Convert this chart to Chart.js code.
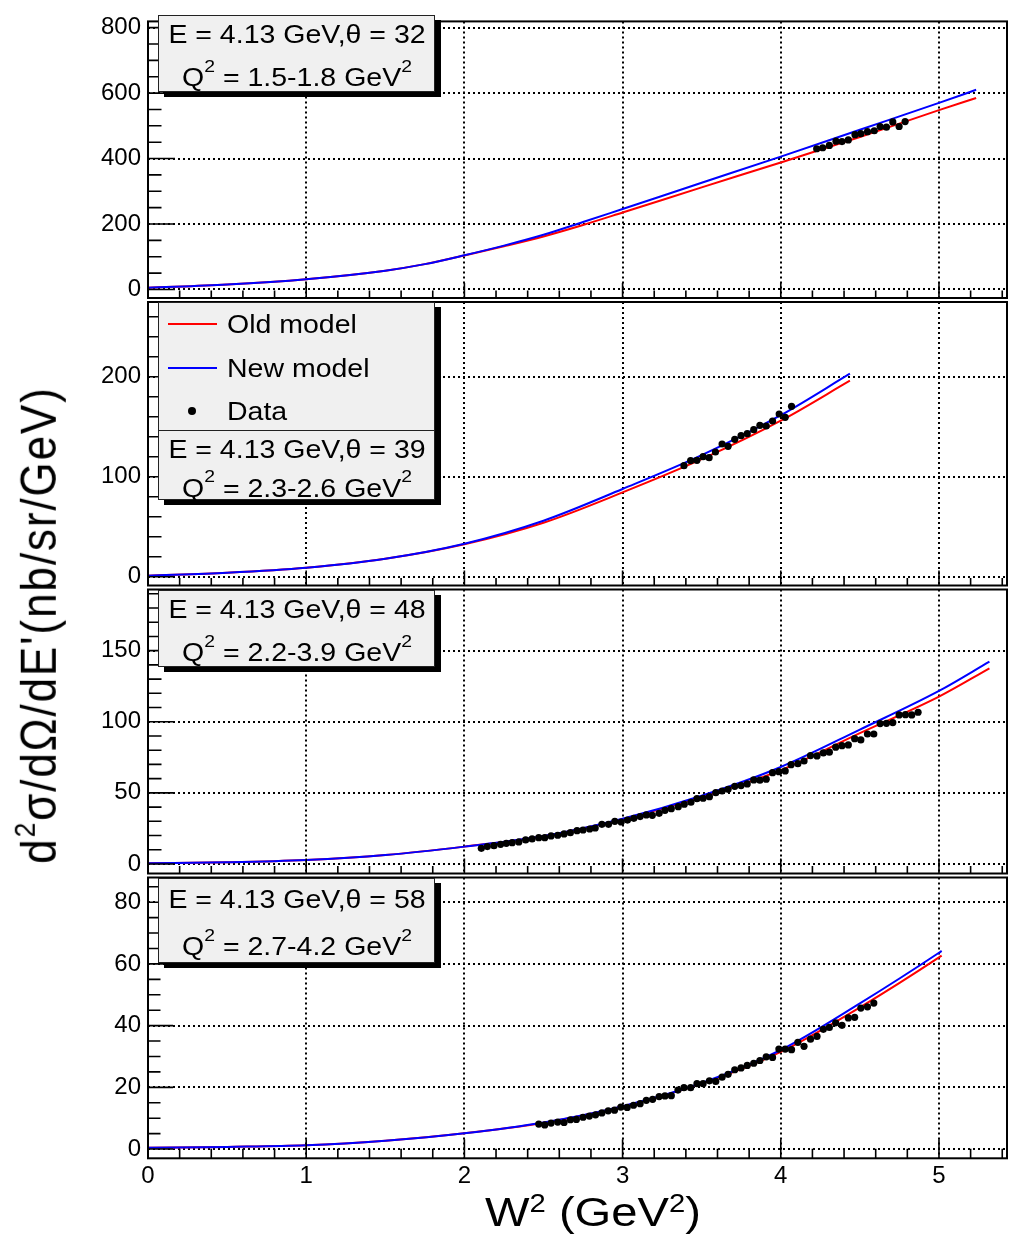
<!DOCTYPE html>
<html><head><meta charset="utf-8">
<script src="https://cdn.jsdelivr.net/npm/chart.js@4.4.1/dist/chart.umd.min.js"></script>
<style>
html,body{margin:0;padding:0;background:#fff}
#wrap{position:relative;width:1011px;height:1245px;overflow:hidden;background:#fff;font-family:"Liberation Sans",Arial,Helvetica,sans-serif;color:#000}
canvas.cv{position:absolute;left:0;top:0}
.box{position:absolute;background:#f0f0f0;border:1.5px solid #222;box-shadow:6px 5px 0 #000;box-sizing:border-box;z-index:5}
.t{position:absolute;white-space:nowrap;line-height:1;z-index:6}
.c{transform:translateX(-50%) scaleX(1.14)}
.l{transform-origin:0 50%;transform:scaleX(1.14)}
.sb{font-size:.68em;position:relative;top:-.84em}
.sx{font-size:.62em;position:relative;top:-.58em}
.sy{font-size:.6em;position:relative;top:-.72em}
.sw{position:absolute;height:2px;z-index:6}
.dot{position:absolute;width:8px;height:8px;border-radius:50%;background:#000;z-index:6}
</style></head>
<body><div id="wrap">
<canvas class="cv" id="c1" width="1011" height="1245"></canvas>
<canvas class="cv" id="c2" width="1011" height="1245"></canvas>
<canvas class="cv" id="c3" width="1011" height="1245"></canvas>
<canvas class="cv" id="c4" width="1011" height="1245"></canvas>

<div class="box" style="left:158px;top:15px;width:277px;height:77px"></div>
<div class="t c" style="left:296.5px;top:21.8px;font-size:25px">E = 4.13 GeV,θ = 32</div>
<div class="t c" style="left:296.5px;top:64.8px;font-size:25px">Q<span class="sb">2</span> = 1.5-1.8 GeV<span class="sb">2</span></div>

<div class="box" style="left:158px;top:302px;width:277px;height:129px"></div>
<div class="box" style="left:158px;top:430px;width:277px;height:70px"></div>
<div class="sw" style="left:168px;top:323px;width:49px;background:#ff0000"></div>
<div class="t l" style="left:227px;top:312.1px;font-size:25px">Old model</div>
<div class="sw" style="left:168px;top:367px;width:49px;background:#0000ff"></div>
<div class="t l" style="left:227px;top:356.1px;font-size:25px">New model</div>
<div class="dot" style="left:188px;top:407px"></div>
<div class="t l" style="left:227px;top:398.8px;font-size:25px">Data</div>
<div class="t c" style="left:296.5px;top:437.1px;font-size:25px">E = 4.13 GeV,θ = 39</div>
<div class="t c" style="left:296.5px;top:475.5px;font-size:25px">Q<span class="sb">2</span> = 2.3-2.6 GeV<span class="sb">2</span></div>

<div class="box" style="left:158px;top:589.5px;width:277px;height:77.5px"></div>
<div class="t c" style="left:296.5px;top:596.5px;font-size:25px">E = 4.13 GeV,θ = 48</div>
<div class="t c" style="left:296.5px;top:639.8px;font-size:25px">Q<span class="sb">2</span> = 2.2-3.9 GeV<span class="sb">2</span></div>

<div class="box" style="left:158px;top:877.5px;width:277px;height:85.5px"></div>
<div class="t c" style="left:296.5px;top:886.5px;font-size:25px">E = 4.13 GeV,θ = 58</div>
<div class="t c" style="left:296.5px;top:933.8px;font-size:25px">Q<span class="sb">2</span> = 2.7-4.2 GeV<span class="sb">2</span></div>

<div class="t" id="ytitle" style="left:39px;top:625px;font-size:44px;letter-spacing:1.9px;transform:translate(-50%,-50%) rotate(-90deg) scaleY(1.15)">d<span class="sy">2</span>σ/dΩ/dE'(nb/sr/GeV)</div>
<div class="t c" style="left:592.5px;top:1192.3px;font-size:41px;transform:translateX(-50%) scaleX(1.15)">W<span class="sx">2</span> (GeV<span class="sx">2</span>)</div>
</div>
<script>
// ---------- shared axis ----------
const xMajor = [0, 1, 2, 3, 4, 5];
const xTickLabels = ['0', '1', '2', '3', '4', '5'];
const xMin = 0, xMax = 5.43;

// ---------- panel 1 : theta = 32 ----------
const p1YTicks = [0, 200, 400, 600, 800];
const p1YMin = -26, p1YMax = 819;
const p1CurveX = [0, 0.5, 1, 1.5, 1.75, 2, 2.25, 2.5, 2.75, 3, 3.5, 4, 4.5, 5, 5.235];
const p1Old = [5, 15, 31.5, 57.5, 77.5, 104, 132, 162, 197, 235, 312, 388, 466, 548, 585];
const p1New = [5, 15, 31.5, 57.5, 77.5, 104.5, 134, 167, 206, 246, 326, 406, 488, 570, 610];
const p1DataX = [4.227, 4.265, 4.307, 4.349, 4.387, 4.427, 4.469, 4.506, 4.548, 4.591, 4.628, 4.668, 4.708, 4.748, 4.786];
const p1DataY = [430, 433, 440, 453, 452, 457, 473, 476, 482, 485, 498, 496, 512, 498, 513];

// ---------- panel 2 : theta = 39 ----------
const p2YTicks = [0, 100, 200];
const p2YMin = -8.8, p2YMax = 274.7;
const p2CurveX = [0, 0.5, 1, 1.5, 2, 2.5, 3, 3.5, 4, 4.437];
const p2Old = [1, 4, 9, 18, 32.5, 54, 84.3, 117.5, 156, 196];
const p2New = [1, 4, 9, 18, 33, 56, 87.7, 121.5, 161.5, 203];
const p2DataX = [3.388, 3.430, 3.470, 3.509, 3.547, 3.587, 3.629, 3.667, 3.709, 3.749, 3.788, 3.829, 3.868, 3.908, 3.948, 3.990, 4.028, 4.068];
const p2DataY = [111, 116, 116.4, 120, 119, 124.7, 132.7, 130.4, 137.4, 141, 143, 147, 151.4, 150.7, 155.7, 162.7, 159.4, 170.4];

// ---------- panel 3 : theta = 48 ----------
const p3YTicks = [0, 50, 100, 150];
const p3YMin = -6.7, p3YMax = 193;
const p3CurveX = [0, 0.5, 1, 1.5, 2, 2.5, 3, 3.5, 4, 4.5, 5, 5.319];
const p3Old = [0.5, 1.2, 2.8, 6.3, 12.2, 19.5, 31.5, 47, 66, 92, 117.7, 137.6];
const p3New = [0.5, 1.2, 2.8, 6.3, 12.2, 19.6, 31.8, 48, 68.2, 94.5, 121.7, 142.3];
const p3DataX = [2.107, 2.145, 2.187, 2.229, 2.265, 2.302, 2.344, 2.387, 2.428, 2.470, 2.508, 2.548, 2.590, 2.630, 2.670, 2.712, 2.750, 2.792, 2.827, 2.869,
  2.911, 2.951, 2.991, 3.031, 3.071, 3.111, 3.150, 3.188, 3.231, 3.268, 3.308, 3.352, 3.390, 3.432, 3.470, 3.509, 3.549, 3.589, 3.629, 3.667,
  3.709, 3.749, 3.788, 3.829, 3.868, 3.908, 3.948, 3.988, 4.028, 4.065, 4.108, 4.147, 4.188, 4.229, 4.269, 4.307, 4.347, 4.387, 4.427, 4.467,
  4.506, 4.548, 4.588, 4.628, 4.668, 4.708, 4.748, 4.788, 4.828, 4.868];
const p3DataY = [11.0, 12.2, 12.9, 13.8, 14.5, 15.0, 15.5, 16.9, 17.6, 18.5, 18.5, 19.7, 20.2, 21.1, 22.0, 23.4, 23.9, 24.6, 25.3, 27.9,
  27.9, 30.0, 29.5, 30.9, 32.1, 33.3, 34.5, 34.2, 35.6, 37.7, 38.9, 40.3, 42.0, 43.4, 45.9, 46.2, 47.3, 50.1, 51.3, 52.5,
  54.6, 55.1, 56.3, 59.1, 58.9, 59.6, 64.2, 64.9, 65.4, 69.8, 70.5, 72.4, 76.2, 76.0, 78.1, 78.6, 82.1, 83.2, 83.7, 88.1,
  87.2, 91.4, 91.4, 98.7, 98.9, 99.4, 104.8, 105.0, 104.8, 106.7];

// ---------- panel 4 : theta = 58 ----------
const p4YTicks = [0, 20, 40, 60, 80];
const p4YMin = -3, p4YMax = 88;
const p4CurveX = [0, 0.5, 1, 1.5, 2, 2.5, 3, 3.5, 4, 4.5, 5, 5.017];
const p4Old = [0.4, 0.7, 1.2, 2.7, 5.1, 8.5, 13.8, 21.2, 31.5, 45.9, 62.1, 62.7];
const p4New = [0.4, 0.7, 1.2, 2.7, 5.1, 8.6, 13.9, 21.4, 32.1, 47.2, 63.6, 64.2];
const p4DataX = [2.470, 2.508, 2.548, 2.590, 2.630, 2.670, 2.708, 2.750, 2.790, 2.829, 2.869, 2.909, 2.949, 2.989, 3.029, 3.069, 3.111, 3.150,
  3.190, 3.231, 3.268, 3.308, 3.350, 3.388, 3.430, 3.470, 3.509, 3.549, 3.589, 3.629, 3.667, 3.709, 3.749, 3.788, 3.829, 3.868,
  3.908, 3.948, 3.988, 4.028, 4.068, 4.108, 4.147, 4.188, 4.229, 4.269, 4.307, 4.347, 4.387, 4.427, 4.467, 4.506, 4.548, 4.588];
const p4DataY = [8.1, 7.8, 8.4, 8.75, 8.6, 9.5, 9.6, 10.3, 10.7, 11.1, 11.7, 12.4, 12.6, 13.6, 13.5, 14.2, 14.7, 15.8,
  16.1, 17.0, 17.2, 17.3, 19.1, 19.9, 19.9, 21.2, 21.2, 22.1, 21.9, 23.3, 24.2, 25.7, 26.3, 27.1, 27.8, 28.7,
  29.9, 29.7, 32.4, 32.4, 32.2, 34.6, 33.3, 35.6, 36.5, 38.8, 39.4, 40.9, 40.1, 42.5, 42.7, 45.7, 46.1, 47.3];

const H = 1245, X_AXIS_H = 30;
const FONT = '"Liberation Sans", Arial, Helvetica, sans-serif';

const framePlugin = {
  id: 'frame',
  beforeDatasetsDraw(chart, args, o) {
    const { ctx, chartArea: a, scales: { x, y } } = chart;
    ctx.save();
    ctx.beginPath(); ctx.rect(a.left, a.top, a.right - a.left, a.bottom - a.top); ctx.clip();
    ctx.strokeStyle = '#000'; ctx.lineWidth = 2; ctx.setLineDash([2, 3]);
    ctx.beginPath();
    xMajor.forEach(v => { if (v <= xMin) return; const px = Math.round(x.getPixelForValue(v)); ctx.moveTo(px, a.top); ctx.lineTo(px, a.bottom); });
    o.yTicks.forEach(v => { const py = Math.round(y.getPixelForValue(v)); ctx.moveTo(a.left, py); ctx.lineTo(a.right, py); });
    ctx.stroke();
    ctx.restore();
  },
  afterDatasetsDraw(chart, args, o) {
    const { ctx, chartArea: a, scales: { x, y } } = chart;
    ctx.save();
    ctx.strokeStyle = '#000'; ctx.setLineDash([]);
    ctx.lineWidth = 1.6;
    ctx.beginPath();
    for (let i = 0; i * 0.2 <= xMax + 1e-9; i++) {
      const v = i * 0.2, px = x.getPixelForValue(v);
      const len = (i % 5 === 0) ? o.xMajorLen : o.xMajorLen / 2;
      ctx.moveTo(px, a.bottom); ctx.lineTo(px, a.bottom - len);
    }
    const start = Math.ceil(o.yMin / o.yMinor);
    for (let k = start; k * o.yMinor <= o.yMax + 1e-9; k++) {
      const v = k * o.yMinor, py = y.getPixelForValue(v);
      const major = o.yTicks.some(t => Math.abs(t - v) < 1e-6);
      const len = major ? o.yMajorLen : o.yMajorLen / 2;
      ctx.moveTo(a.left, py); ctx.lineTo(a.left + len, py);
    }
    ctx.stroke();
    ctx.lineWidth = 2;
    ctx.strokeRect(a.left, a.top, a.right - a.left, a.bottom - a.top);
    ctx.restore();
  }
};

function makePanel(id, frameTop, frameBottom, yMin, yMax, yTicks, yMinor, yMajorLen, xMajorLen, curveX, oldY, newY, dataX, dataY, showX) {
  const padBottom = showX ? (H - frameBottom - X_AXIS_H) : (H - frameBottom);
  return new Chart(document.getElementById(id), {
    type: 'scatter',
    data: {
      datasets: [
        { label: 'Data', data: dataX.map((v, i) => ({ x: v, y: dataY[i] })), showLine: false,
          pointRadius: 3.6, pointBackgroundColor: '#000', pointBorderColor: '#000', pointBorderWidth: 0 },
        { label: 'New model', data: curveX.map((v, i) => ({ x: v, y: newY[i] })), showLine: true,
          borderColor: '#0000ff', borderWidth: 2, pointRadius: 0, cubicInterpolationMode: 'monotone', fill: false },
        { label: 'Old model', data: curveX.map((v, i) => ({ x: v, y: oldY[i] })), showLine: true,
          borderColor: '#ff0000', borderWidth: 2, pointRadius: 0, cubicInterpolationMode: 'monotone', fill: false }
      ]
    },
    options: {
      responsive: false, animation: false, devicePixelRatio: 1, events: [],
      layout: { padding: { top: frameTop, bottom: padBottom, left: 0, right: 1 } },
      plugins: {
        legend: { display: false }, tooltip: { enabled: false },
        frame: { yTicks, yMin, yMax, yMinor, yMajorLen, xMajorLen }
      },
      scales: {
        x: {
          type: 'linear', min: xMin, max: xMax, display: showX,
          grid: { display: false, drawTicks: false }, border: { display: false },
          ticks: { color: '#000', font: { family: FONT, size: 24 }, padding: 4, maxRotation: 0, autoSkip: false,
            callback: (v, i) => xTickLabels[i] },
          afterBuildTicks: s => { s.ticks = xMajor.map(v => ({ value: v })); },
          afterFit: s => { s.height = showX ? X_AXIS_H : 0; }
        },
        y: {
          type: 'linear', min: yMin, max: yMax,
          grid: { display: false, drawTicks: false }, border: { display: false },
          ticks: { color: '#000', font: { family: FONT, size: 24 }, padding: 7, autoSkip: false,
            callback: v => String(v) },
          afterBuildTicks: s => { s.ticks = yTicks.map(v => ({ value: v })); },
          afterFit: s => { s.width = 148; }
        }
      }
    },
    plugins: [framePlugin]
  });
}

makePanel('c1', 15, 298, p1YMin, p1YMax, p1YTicks, 50, 27, 15, p1CurveX, p1Old, p1New, p1DataX, p1DataY, false);
makePanel('c2', 302, 585.5, p2YMin, p2YMax, p2YTicks, 20, 27, 15, p2CurveX, p2Old, p2New, p2DataX, p2DataY, false);
makePanel('c3', 589.5, 873.5, p3YMin, p3YMax, p3YTicks, 10, 27, 15, p3CurveX, p3Old, p3New, p3DataX, p3DataY, false);
makePanel('c4', 877.5, 1158.3, p4YMin, p4YMax, p4YTicks, 5, 25, 19, p4CurveX, p4Old, p4New, p4DataX, p4DataY, true);
</script>
</body></html>
